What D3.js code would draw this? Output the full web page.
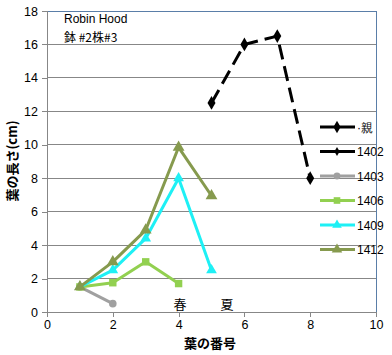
<!DOCTYPE html>
<html><head><meta charset="utf-8">
<script src="https://cdn.jsdelivr.net/npm/d3@7"></script>
<style>body{margin:0;background:#fff}svg{display:block}</style>
</head><body>
<script>
const leafNumbers = [1,2,3,4,5,6,7,8];
const seriesNames = ["·親","1402","1403","1406","1409","1412"];
const oyaX = [5,6,7,8];
const oyaY = [12.5,16,16.5,8];
const s1402X = [];
const s1402Y = [];
const s1403X = [1,2];
const s1403Y = [1.5,0.5];
const s1406X = [1,2,3,4];
const s1406Y = [1.5,1.75,3,1.7];
const s1409X = [1,2,3,4,5];
const s1409Y = [1.5,2.5,4.4,8,2.5];
const s1412X = [1,2,3,4,5];
const s1412Y = [1.5,3,4.9,9.85,6.95];
const xTicks = [0,2,4,6,8,10];
const yTicks = [0,2,4,6,8,10,12,14,16,18];

const W=392,H=355;
const svg=d3.select("body").append("svg").attr("width",W).attr("height",H);
const x=d3.scaleLinear().domain([0,10]).range([47,376]);
const y=d3.scaleLinear().domain([0,18]).range([312,11]);
const font="Arial, 'Liberation Sans', sans-serif";

// gridlines
svg.append("g").selectAll("line").data(yTicks.filter(d=>d>0)).join("line")
  .attr("x1",x(0)).attr("x2",x(10)).attr("y1",d=>y(d)).attr("y2",d=>y(d))
  .attr("stroke","#878787").attr("stroke-width",1).attr("shape-rendering","crispEdges");
// plot border top/right
svg.append("line").attr("x1",x(0)).attr("x2",x(10)).attr("y1",y(18)).attr("y2",y(18))
  .attr("stroke","#5a7ea8").attr("shape-rendering","crispEdges");
svg.append("line").attr("x1",x(10)).attr("x2",x(10)).attr("y1",y(18)).attr("y2",y(0))
  .attr("stroke","#5a7ea8").attr("shape-rendering","crispEdges");

const yAxis=svg.append("g").attr("transform",`translate(${x(0)},0)`)
  .call(d3.axisLeft(y).tickValues(yTicks).tickSize(5).tickPadding(4).tickFormat(d3.format("d")));
const xAxis=svg.append("g").attr("transform",`translate(0,${y(0)})`)
  .call(d3.axisBottom(x).tickValues(xTicks).tickSize(5).tickPadding(3).tickFormat(d3.format("d")));
[yAxis,xAxis].forEach(a=>{
  a.select(".domain").attr("stroke","#878787").attr("shape-rendering","crispEdges");
  a.selectAll(".tick line").attr("stroke","#878787").attr("shape-rendering","crispEdges");
  a.selectAll("text").attr("font-family",font).attr("font-size",12.5).attr("fill","#000");
});

const series=[
  {name:seriesNames[0],xs:oyaX,ys:oyaY,color:"#000",dash:"15,7",sym:d3.symbolDiamond,sz:55,w:3},
  {name:seriesNames[1],xs:s1402X,ys:s1402Y,color:"#000",dash:null,sym:d3.symbolDiamond,sz:30,w:3},
  {name:seriesNames[2],xs:s1403X,ys:s1403Y,color:"#a0a0a0",dash:null,sym:d3.symbolCircle,sz:45,w:3},
  {name:seriesNames[3],xs:s1406X,ys:s1406Y,color:"#92d050",dash:null,sym:d3.symbolSquare,sz:55,w:3},
  {name:seriesNames[4],xs:s1409X,ys:s1409Y,color:"#1ef0f5",dash:null,sym:d3.symbolTriangle,sz:50,w:3},
  {name:seriesNames[5],xs:s1412X,ys:s1412Y,color:"#869a4e",dash:null,sym:d3.symbolTriangle,sz:60,w:3}
];
const line=d3.line().x(d=>x(d[0])).y(d=>y(d[1]));
series.forEach(s=>{
  const pts=s.xs.map((v,i)=>[v,s.ys[i]]);
  if(!pts.length) return;
  svg.append("path").datum(pts).attr("d",line).attr("fill","none")
    .attr("stroke",s.color).attr("stroke-width",s.w).attr("stroke-dasharray",s.dash)
    .attr("stroke-linejoin","round");
  svg.append("g").selectAll("path").data(pts).join("path")
    .attr("d",d3.symbol().type(s.sym).size(s.sz))
    .attr("transform",d=>`translate(${x(d[0])},${y(d[1])})`).attr("fill",s.color);
});

// legend
const lg=svg.append("g");
series.forEach((s,i)=>{
  const ly=127+i*24.5;
  lg.append("line").attr("x1",320).attr("x2",355).attr("y1",ly).attr("y2",ly)
    .attr("stroke",s.color).attr("stroke-width",3);
  lg.append("path").attr("d",d3.symbol().type(s.sym).size(s.sz*0.8)).attr("transform",`translate(337,${ly})`).attr("fill",s.color);
  lg.append("text").attr("x",357).attr("y",ly+4.5).text(s.name)
    .attr("font-family",font).attr("font-size",12).attr("fill","#000");
});

// annotations
svg.append("text").attr("x",64).attr("y",23).text("Robin Hood").attr("font-family",font).attr("font-size",12);
svg.append("text").attr("x",64).attr("y",42).text("鉢 #2株#3").attr("font-family","'Noto Sans CJK JP', sans-serif").attr("font-size",12);
svg.append("text").attr("x",180).attr("y",309).attr("text-anchor","middle").text("春").attr("font-family","'Noto Sans CJK JP', sans-serif").attr("font-size",13);
svg.append("text").attr("x",227).attr("y",309).attr("text-anchor","middle").text("夏").attr("font-family","'Noto Sans CJK JP', sans-serif").attr("font-size",13);

// axis titles
svg.append("text").attr("x",210).attr("y",348).attr("text-anchor","middle").text("葉の番号")
  .attr("font-family","'Noto Sans CJK JP', sans-serif").attr("font-weight","bold").attr("font-size",13);
svg.append("text").attr("transform","translate(17,161) rotate(-90)").attr("text-anchor","middle").text("葉の長さ(cm)")
  .attr("font-family","'Noto Sans CJK JP', sans-serif").attr("font-weight","bold").attr("font-size",13);
</script>
</body></html>
